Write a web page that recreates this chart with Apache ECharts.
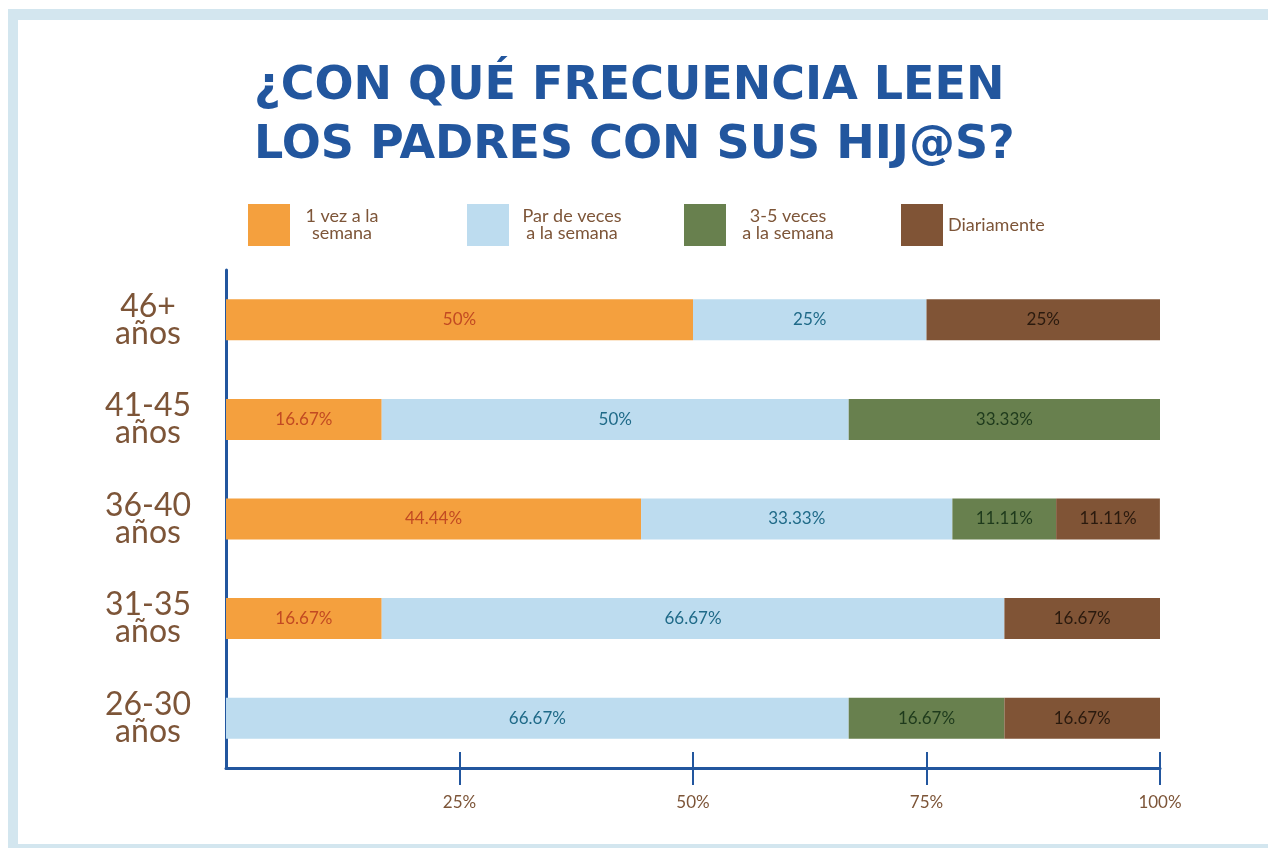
<!DOCTYPE html>
<html>
<head>
<meta charset="utf-8">
<script src="https://cdn.jsdelivr.net/npm/echarts@6/dist/echarts.min.js"></script>
<style>
  html, body { margin: 0; padding: 0; background: #fff; }
  #frame {
    position: absolute; left: 8px; top: 9px; width: 1260px; height: 839px;
    border-left: 10px solid #d3e6ef; border-top: 11px solid #d3e6ef; border-bottom: 4px solid #d3e6ef;
    box-sizing: border-box;
  }
  #main { position: absolute; left: 0; top: 0; width: 1268px; height: 851px; }
</style>
</head>
<body>
<div id="frame"></div>
<div id="main"></div>
<script>
  // datos
  var categorias = ['46+\naños', '41-45\naños', '36-40\naños', '31-35\naños', '26-30\naños'];
  var series_nombres = ['1 vez a la semana', 'Par de veces a la semana', '3-5 veces a la semana', 'Diariamente'];
  var legend_textos = ['1 vez a la\nsemana', 'Par de veces\na la semana', '3-5 veces\na la semana', 'Diariamente'];
  var vez_semana = [50, 16.67, 44.44, 16.67, 0];
  var par_veces = [25, 50, 33.33, 66.67, 66.67];
  var tres_cinco = [0, 33.33, 11.11, 0, 16.67];
  var diariamente = [25, 0, 11.11, 16.67, 16.67];
  var ticks_x = [25, 50, 75, 100];

  var colores = ['#f4a03e', '#bddcef', '#68804e', '#805436'];
  var colores_label = ['#c24a22', '#1f6a88', '#1e3a1c', '#2a1a0e'];
  var valores = [vez_semana, par_veces, tres_cinco, diariamente];

  var myChart = echarts.init(document.getElementById('main'));

  var leyendaX = [248, 467, 684, 901];
  var leyendaAncho = [94, 116, 114, 0];
  var legends = series_nombres.map(function (n, i) {
    var rich = { t: { fontSize: 18, lineHeight: 17, color: '#7d5538', fontFamily: 'Lato' } };
    if (leyendaAncho[i]) { rich.t.width = leyendaAncho[i]; rich.t.align = 'center'; }
    return {
      data: [n],
      left: leyendaX[i],
      top: 204,
      padding: 0,
      itemWidth: 42,
      itemHeight: 42,
      itemGap: 0,
      icon: 'rect',
      selectedMode: false,
      formatter: function () { return '{t|' + legend_textos[i] + '}'; },
      textStyle: { rich: rich }
    };
  });

  var option = {
    title: {
      text: '¿CON QUÉ FRECUENCIA LEEN\nLOS PADRES CON SUS HIJ@S?',
      left: 254,
      top: 58,
      padding: 0,
      textStyle: {
        fontFamily: 'DejaVu Sans',
        fontWeight: 'bold',
        fontSize: 46,
        lineHeight: 59,
        color: '#22569e'
      }
    },
    legend: legends,
    grid: { left: 226, right: 108, top: 270, bottom: 83, containLabel: false },
    xAxis: [
      {
        type: 'value', min: 0, max: 100, interval: 25,
        axisLine: { show: true, lineStyle: { color: '#22569e', width: 3 } },
        axisTick: { show: true, length: 17, customValues: ticks_x, lineStyle: { color: '#22569e', width: 2 } },
        splitLine: { show: false },
        axisLabel: {
          margin: 26, color: '#7d5538', fontSize: 17, fontFamily: 'Lato',
          customValues: ticks_x,
          formatter: function (v) { return v + '%'; }
        }
      },
      {
        type: 'value', min: 0, max: 100, interval: 25, position: 'bottom',
        axisLine: { show: false },
        axisTick: { show: true, inside: true, length: 16, customValues: ticks_x, lineStyle: { color: '#22569e', width: 2 } },
        splitLine: { show: false },
        axisLabel: { show: false }
      }
    ],
    yAxis: {
      type: 'category',
      inverse: true,
      data: categorias,
      axisLine: { show: true, lineStyle: { color: '#22569e', width: 3 } },
      axisTick: { show: false },
      axisLabel: {
        align: 'center',
        margin: 78,
        color: '#7d5538',
        fontSize: 32,
        lineHeight: 27,
        fontFamily: 'Lato'
      }
    },
    series: series_nombres.map(function (n, i) {
      return {
        name: n,
        type: 'bar',
        stack: 'total',
        barWidth: 41,
        data: valores[i],
        itemStyle: { color: colores[i] },
        label: {
          show: true,
          position: 'inside',
          color: colores_label[i],
          fontSize: 17,
          fontFamily: 'Lato',
          formatter: function (p) { return p.value ? p.value + '%' : ''; }
        }
      };
    })
  };
  myChart.setOption(option);
</script>
</body>
</html>
